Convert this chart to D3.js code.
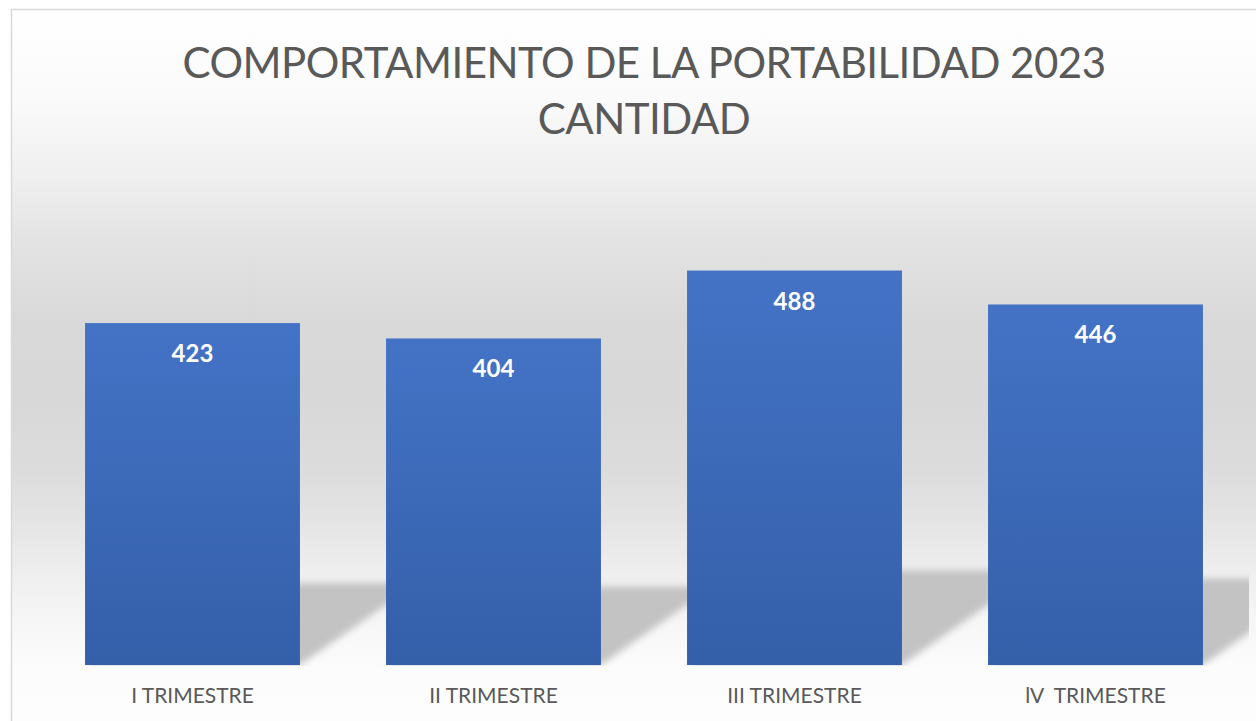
<!DOCTYPE html>
<html>
<head>
<meta charset="utf-8">
<script src="https://cdn.jsdelivr.net/npm/d3@7"></script>
<style>
    html, body { margin: 0; padding: 0; background: #ffffff; }
    #chart { width: 1256px; height: 721px; }
</style>
</head>
<body>
<div id="chart"></div>
<script>
// Chart data
const categories = ['I TRIMESTRE', 'II TRIMESTRE', 'III TRIMESTRE', 'lV  TRIMESTRE'];
const values = [423, 404, 488, 446];
const titleLines = ['COMPORTAMIENTO DE LA PORTABILIDAD 2023', 'CANTIDAD'];
const yMax = 600;

//////////////////////////////////////////////////////////////////////
// Build chart
//////////////////////////////////////////////////////////////////////
function initChart() {
    const width = 1256;
    const height = 721;
    const plot = {left: 42, right: 1246, top: 180, bottom: 665};
    const fontFamily = 'Lato, "Open Sans", sans-serif';

    const data = categories.map((c, i) => ({category: c, value: values[i]}));

    const svg = d3.select('#chart')
        .append('svg')
        .attr('width', width)
        .attr('height', height);

    const defs = svg.append('defs');

    // Chart area background: white -> grey -> white
    const bg = defs.append('linearGradient')
        .attr('id', 'bg-grad')
        .attr('gradientUnits', 'userSpaceOnUse')
        .attr('x1', 0).attr('x2', 0)
        .attr('y1', 0).attr('y2', height);
    [[10, '#ffffff'], [100, '#fafafa'], [180, '#efefef'], [240, '#e3e3e3'],
     [320, '#d9d9d9'], [400, '#d8d8d8'], [470, '#dcdcdc'], [520, '#e4e4e4'],
     [570, '#eeeeee'], [620, '#f6f6f6'], [670, '#fcfcfc'], [721, '#fdfdfd']]
        .forEach(s => bg.append('stop')
            .attr('offset', s[0] / height)
            .attr('stop-color', s[1]));

    // Bar fill gradient
    const barGrad = defs.append('linearGradient')
        .attr('id', 'bar-grad')
        .attr('x1', 0).attr('x2', 0)
        .attr('y1', 0).attr('y2', 1);
    barGrad.append('stop').attr('offset', 0).attr('stop-color', '#4473c6');
    barGrad.append('stop').attr('offset', 1).attr('stop-color', '#345fa9');

    // Blur for the perspective shadow
    defs.append('filter')
        .attr('id', 'shadow-blur')
        .attr('x', '-20%').attr('y', '-20%')
        .attr('width', '140%').attr('height', '140%')
        .append('feGaussianBlur')
        .attr('stdDeviation', 3.5);

    defs.append('clipPath')
        .attr('id', 'plot-clip')
        .append('rect')
        .attr('x', plot.left)
        .attr('y', 0)
        .attr('width', 1249 - plot.left)
        .attr('height', plot.bottom + 1);

    // Chart area with border
    svg.append('rect')
        .attr('x', 11.5)
        .attr('y', 9.5)
        .attr('width', width)
        .attr('height', height)
        .attr('fill', 'url(#bg-grad)')
        .attr('stroke', '#d9d9d9')
        .attr('stroke-width', 1.5);

    // Scales
    const x = d3.scaleBand()
        .domain(categories)
        .range([plot.left, plot.right])
        .paddingInner(0.286)
        .paddingOuter(0.143);

    const y = d3.scaleLinear()
        .domain([0, yMax])
        .range([plot.bottom, plot.top]);

    // Perspective shadows behind the bars
    const skew = 1.43;
    const squash = 0.24;
    svg.append('g')
        .attr('clip-path', 'url(#plot-clip)')
        .selectAll('.shadow')
        .data(data)
        .enter()
        .append('path')
        .attr('class', 'shadow')
        .attr('fill', '#c3c3c3')
        .attr('filter', 'url(#shadow-blur)')
        .attr('d', d => {
            const x0 = x(d.category);
            const x1 = x0 + x.bandwidth();
            const h = (y(0) - y(d.value)) * squash;
            const b = y(0);
            return `M${x0},${b} L${x1},${b} L${x1 + skew * h},${b - h} L${x0 + skew * h},${b - h} Z`;
        });

    // Bars
    svg.selectAll('.bar')
        .data(data)
        .enter()
        .append('rect')
        .attr('class', 'bar')
        .attr('x', d => x(d.category))
        .attr('y', d => y(d.value))
        .attr('width', x.bandwidth())
        .attr('height', d => y(0) - y(d.value))
        .attr('fill', 'url(#bar-grad)');

    // Value labels inside the bars
    svg.selectAll('.value-label')
        .data(data)
        .enter()
        .append('text')
        .attr('class', 'value-label')
        .attr('x', d => x(d.category) + x.bandwidth() / 2)
        .attr('y', d => y(d.value) + 39)
        .attr('text-anchor', 'middle')
        .attr('font-family', fontFamily)
        .attr('font-weight', 'bold')
        .attr('font-size', 24)
        .attr('fill', '#ffffff')
        .text(d => d.value);

    // X axis labels
    const xAxis = svg.append('g')
        .attr('class', 'x-axis')
        .attr('transform', `translate(0,${plot.bottom})`)
        .call(d3.axisBottom(x).tickSize(0).tickPadding(0));
    xAxis.select('.domain').remove();
    xAxis.selectAll('text')
        .attr('dy', null)
        .attr('y', 38)
        .attr('font-family', fontFamily)
        .attr('font-size', 21)
        .attr('fill', '#595959')
        .style('white-space', 'pre');

    // Title
    svg.append('text')
        .attr('class', 'title')
        .attr('text-anchor', 'middle')
        .attr('font-family', fontFamily)
        .attr('font-size', 42)
        .attr('letter-spacing', -0.5)
        .attr('fill', '#595959')
        .selectAll('tspan')
        .data(titleLines)
        .enter()
        .append('tspan')
        .attr('x', 644)
        .attr('y', (d, i) => 78 + i * 56)
        .text(d => d);
}

document.addEventListener('DOMContentLoaded', initChart);
</script>
</body>
</html>
